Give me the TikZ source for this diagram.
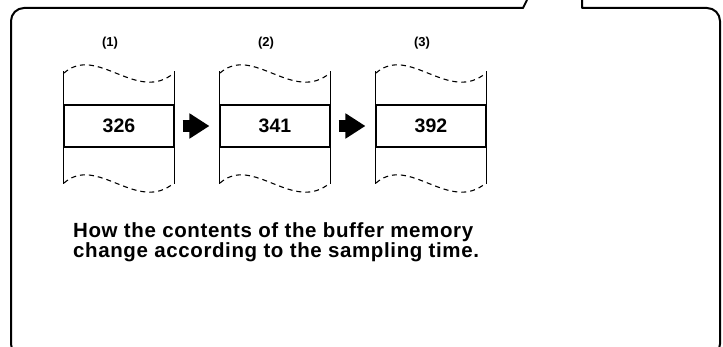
\documentclass[tikz,border=0pt]{standalone}
\usepackage{fontspec}
\setmainfont{Liberation Sans}
\usetikzlibrary{arrows.meta}

\tikzset{
  frame/.style={line width=2pt, line join=round},
  cell/.style={draw, line width=1.1pt, minimum width=110pt,
               minimum height=42pt, inner sep=0pt,
               font=\bfseries\fontsize{19.5}{19.5}\selectfont},
  side/.style={line width=1.1pt},
  wave/.style={line width=1.1pt, dash pattern=on 5pt off 4pt},
  tag/.style={font=\bfseries\fontsize{13}{13}\selectfont},
  pusharrow/.style={line width=12pt, shorten <=8pt, shorten >=10pt,
                    -{Triangle[length=20pt,width=24pt]}},
  caption/.style={align=left, inner sep=0pt,
                  font=\bfseries\fontsize{20.5}{19}\selectfont\addfontfeature{LetterSpace=3}}
}

\begin{document}
\begin{tikzpicture}[x=1pt,y=-1pt]
  \useasboundingbox (0,0) rectangle (723,347);
  \clip (0,0) rectangle (723,347);

  % callout frame
  \draw[frame] (527,0) -- (523,8) -- (300,8) [rounded corners=13pt]
    -- (11,8) -- (11,357) -- (720,357) -- (720,8) -- (650,8)
    [sharp corners] -- (582,8) -- (582,0);

  % buffer memory snapshots
  \foreach \cx/\val/\lab [count=\i] in {119/326/1,275/341/2,431/392/3}{
    \node[cell] (c\i) at (\cx,126) {\val};
    \node[tag] (t\i) at (\cx-9,43) {(\lab)};
    \draw[side] (c\i.north west) -- ++(0,-33);
    \draw[side] (c\i.north east) -- ++(0,-33);
    \draw[side] (c\i.south west) -- ++(0,36);
    \draw[side] (c\i.south east) -- ++(0,36);
    \draw[wave] (\cx-55,73) .. controls (\cx-22,44) and (\cx+18,104) .. (\cx+55,73);
    \draw[wave] (\cx-55,183) .. controls (\cx-22,154) and (\cx+18,214) .. (\cx+55,183);
  }

  \draw[pusharrow] (c1) -- (c2);
  \draw[pusharrow] (c2) -- (c3);

  \node[caption, anchor=north west] (note) at (73,222)
    {How the contents of the buffer memory\\
     change according to the sampling time.};
\end{tikzpicture}
\end{document}
